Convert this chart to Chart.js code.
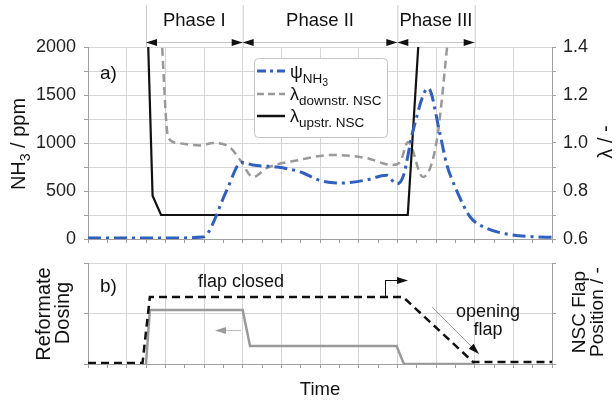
<!DOCTYPE html>
<html>
<head>
  <title>NSC phases</title>
  <script src="https://cdn.jsdelivr.net/npm/chart.js"></script>
  <style>
    body { margin: 0; background: #fff; }
    #wrap { position: relative; width: 616px; height: 400px; }
    canvas { position: absolute; left: 0; top: 0; }
  </style>
</head>
<body>
  <div id="wrap">
    <canvas id="topChart" width="616" height="400"></canvas>
    <canvas id="bottomChart" width="616" height="400"></canvas>
  </div>

  <script>
    // time is in grid divisions (12 of them, axis has no numbers)
    const psiTime = [0, 1, 2, 2.97, 3.1, 3.59, 3.97, 4.27, 4.89, 5.48, 6.0, 6.52, 7.2, 7.72, 7.98, 8.15, 8.41, 8.8, 9.1, 9.27, 9.53, 9.88, 10.31, 10.83, 11.5, 12];
    const psiNH3  = [10, 10, 10, 20, 60, 510, 800, 770, 750, 700, 610, 583, 615, 665, 573, 650, 1135, 1570, 1100, 788, 510, 232, 111, 52, 24, 17];

    const lamDownTime = [1.9, 2.07, 2.3, 2.9, 3.24, 3.68, 3.93, 4.27, 4.63, 5.48, 6.0, 6.34, 7.2, 7.88, 8.07, 8.28, 8.66, 9.02, 9.32];
    const lamDown     = [1.45, 1.025, 1.0, 0.99, 1.0, 0.98, 0.93, 0.858, 0.896, 0.93, 0.946, 0.95, 0.937, 0.908, 0.92, 1.004, 0.858, 1.01, 1.45];

    const lamUpTime = [1.54, 1.67, 1.89, 8.27, 8.56];
    const lamUp     = [1.5, 0.78, 0.70, 0.70, 1.45];

    // b) reformate dosing (left) and NSC flap position (right), 0..1
    const dosingTime = [1.5, 1.6, 4.0, 4.19, 7.98, 8.17, 10];
    const dosing     = [0, 0.535, 0.535, 0.178, 0.178, 0, 0];

    const flapTime = [0, 1.41, 1.6, 8.15, 9.96, 12];
    const flapPos  = [0.01, 0.01, 0.663, 0.663, 0.02, 0.02];

    const phaseBounds = [1.5, 4, 8, 10];
    const phaseNames = ['Phase I', 'Phase II', 'Phase III'];

    const FONT = '"Liberation Sans", Arial, Helvetica, sans-serif';
    const GRID = '#d6d6d6';
    const AXIS = '#a0a0a0';
    const BLUE = '#2f5fbf';

    const pts = (xs, ys) => xs.map((x, i) => ({ x: x, y: ys[i] }));

    // draws a run of text pieces [text, size, dy] side by side
    function runText(ctx, parts, x, y, align) {
      let w = 0;
      parts.forEach(p => { ctx.font = p[1] + 'px ' + FONT; w += ctx.measureText(p[0]).width; });
      let cx = align === 'center' ? x - w / 2 : x;
      ctx.textAlign = 'left';
      ctx.textBaseline = 'alphabetic';
      parts.forEach(p => {
        ctx.font = p[1] + 'px ' + FONT;
        ctx.fillText(p[0], cx, y + (p[2] || 0));
        cx += ctx.measureText(p[0]).width;
      });
    }
    function vText(ctx, parts, x, y) {
      ctx.save();
      ctx.translate(x, y);
      ctx.rotate(-Math.PI / 2);
      runText(ctx, parts, 0, 0, 'center');
      ctx.restore();
    }
    function head(ctx, x, y, ang, len, half, color) {
      ctx.save();
      ctx.translate(x, y);
      ctx.rotate(ang);
      ctx.fillStyle = color;
      ctx.beginPath();
      ctx.moveTo(0, 0);
      ctx.lineTo(-len, -half);
      ctx.lineTo(-len, half);
      ctx.closePath();
      ctx.fill();
      ctx.restore();
    }
    function seg(ctx, x1, y1, x2, y2, color, w) {
      ctx.strokeStyle = color;
      ctx.lineWidth = w || 1;
      ctx.setLineDash([]);
      ctx.beginPath();
      ctx.moveTo(x1, y1);
      ctx.lineTo(x2, y2);
      ctx.stroke();
    }

    const topDecor = {
      id: 'topDecor',
      afterDraw(chart) {
        const ctx = chart.ctx;
        const xs = chart.scales.x;
        const area = chart.chartArea;
        ctx.save();
        ctx.fillStyle = '#111';

        // phase brackets
        const px = phaseBounds.map(v => xs.getPixelForValue(v));
        px.forEach(p => seg(ctx, p + 0.5, 5, p + 0.5, area.top, '#c8c8c8', 1));
        seg(ctx, px[0], 42.5, px[px.length - 1], 42.5, '#c8c8c8', 1);
        for (let i = 0; i < phaseNames.length; i++) {
          head(ctx, px[i], 42.5, Math.PI, 11, 3.5, '#111');
          head(ctx, px[i + 1], 42.5, 0, 11, 3.5, '#111');
          ctx.fillStyle = '#111';
          runText(ctx, [[phaseNames[i], 18.5]], (px[i] + px[i + 1]) / 2, 26, 'center');
        }

        ctx.fillStyle = '#111';
        runText(ctx, [['a)', 19]], 100, 79, 'left');

        // legend
        ctx.fillStyle = '#fff';
        ctx.strokeStyle = '#c4c4c4';
        ctx.lineWidth = 1;
        ctx.beginPath();
        ctx.roundRect(254.5, 58.5, 133, 79, 4);
        ctx.fill();
        ctx.stroke();
        const rows = [
          { y: 71, color: BLUE, dash: [9, 4, 3, 4], w: 3, parts: [['\u03c8', 18, 7], ['NH', 13.5, 12], ['3', 10.5, 15]] },
          { y: 94, color: '#999', dash: [7, 4], w: 2.5, parts: [['\u03bb', 18, 6], ['downstr. NSC', 13.5, 11]] },
          { y: 116, color: '#111', dash: [], w: 2.5, parts: [['\u03bb', 18, 6], ['upstr. NSC', 13.5, 11]] }
        ];
        rows.forEach(r => {
          ctx.strokeStyle = r.color;
          ctx.lineWidth = r.w;
          ctx.setLineDash(r.dash);
          ctx.beginPath();
          ctx.moveTo(257, r.y);
          ctx.lineTo(285, r.y);
          ctx.stroke();
          ctx.setLineDash([]);
          ctx.fillStyle = '#111';
          let x = 290;
          ctx.textAlign = 'left';
          r.parts.forEach(p => {
            ctx.font = p[1] + 'px ' + FONT;
            ctx.fillText(p[0], x, r.y + p[2]);
            x += ctx.measureText(p[0]).width;
          });
        });

        // axis titles
        ctx.fillStyle = '#111';
        vText(ctx, [['NH', 20], ['3', 14, 5], [' / ppm', 20]], 25, 144);
        vText(ctx, [['\u03bb / -', 20]], 612, 142);
        ctx.restore();
      }
    };

    const bottomDecor = {
      id: 'bottomDecor',
      afterDraw(chart) {
        const ctx = chart.ctx;
        const area = chart.chartArea;
        ctx.save();
        ctx.fillStyle = '#111';
        runText(ctx, [['b)', 19]], 100, 292, 'left');
        runText(ctx, [['flap closed', 18]], 241, 287, 'center');
        runText(ctx, [['opening', 18]], 488, 317, 'center');
        runText(ctx, [['flap', 18]], 488, 335, 'center');

        // grey arrow -> left axis
        seg(ctx, 241, 330.5, 224, 330.5, '#c0c0c0', 1);
        head(ctx, 215, 330.5, Math.PI, 11, 3.5, '#9a9a9a');
        // black arrow -> right axis
        seg(ctx, 385.5, 296, 385.5, 280.5, '#111', 1);
        seg(ctx, 385, 280.5, 398, 280.5, '#111', 1);
        head(ctx, 408, 280.5, 0, 11, 3.5, '#111');
        // opening flap arrow
        const a = Math.atan2(354 - 307, 479 - 432);
        seg(ctx, 432, 307, 472, 347, '#9a9a9a', 1);
        head(ctx, 479, 354, a, 11, 3.5, '#111');

        // axis titles
        vText(ctx, [['Reformate', 20]], 50, 314);
        vText(ctx, [['Dosing', 20]], 69, 313);
        vText(ctx, [['NSC Flap', 19]], 585, 312);
        vText(ctx, [['Position / -', 19]], 603, 312);
        runText(ctx, [['Time', 18.5]], (area.left + area.right) / 2, 395, 'center');
        ctx.restore();
      }
    };

    const xAxis = {
      type: 'linear',
      min: 0,
      max: 12,
      ticks: { display: false, stepSize: 0.5 },
      grid: {
        color: c => Number.isInteger(c.tick.value) ? GRID : 'rgba(0,0,0,0)',
        tickColor: AXIS,
        tickLength: 4
      },
      border: { color: AXIS },
      afterFit: s => { s.height = 4; }
    };

    const tickFont = { family: FONT, size: 18 };

    new Chart(document.getElementById('topChart'), {
      type: 'line',
      data: {
        datasets: [
          {
            data: pts(psiTime, psiNH3), yAxisID: 'y', borderColor: BLUE, borderWidth: 3,
            borderDash: [13, 5, 3, 5], pointRadius: 0, cubicInterpolationMode: 'monotone'
          },
          {
            data: pts(lamUpTime, lamUp), yAxisID: 'yR', borderColor: '#111', borderWidth: 2.2,
            pointRadius: 0
          },
          {
            data: pts(lamDownTime, lamDown), yAxisID: 'yR', borderColor: '#999', borderWidth: 2.5,
            borderDash: [8, 5], pointRadius: 0, cubicInterpolationMode: 'monotone'
          }
        ]
      },
      options: {
        responsive: false,
        animation: false,
        events: [],
        layout: { padding: { top: 47, bottom: 157, left: 0, right: 0 } },
        plugins: { legend: { display: false }, tooltip: { enabled: false } },
        scales: {
          x: xAxis,
          y: {
            position: 'left', min: 0, max: 2000,
            ticks: {
              stepSize: 250, autoSkip: false, padding: 8, color: '#222', font: tickFont,
              callback: v => v % 500 === 0 ? v : ''
            },
            grid: { color: GRID, tickColor: AXIS, tickLength: 4 },
            border: { color: AXIS },
            afterFit: s => { s.width = 88; }
          },
          yR: {
            position: 'right', min: 0.6, max: 1.4,
            ticks: {
              stepSize: 0.1, autoSkip: false, padding: 7, color: '#222', font: tickFont,
              callback: v => Math.round(v * 10) % 2 === 0 ? v.toFixed(1) : ''
            },
            grid: { drawOnChartArea: false, tickColor: AXIS, tickLength: 4 },
            border: { color: AXIS },
            afterFit: s => { s.width = 64; }
          }
        }
      },
      plugins: [topDecor]
    });

    new Chart(document.getElementById('bottomChart'), {
      type: 'line',
      data: {
        datasets: [
          {
            data: pts(flapTime, flapPos), yAxisID: 'yR', borderColor: '#111', borderWidth: 2.5,
            borderDash: [8, 5], pointRadius: 0
          },
          {
            data: pts(dosingTime, dosing), yAxisID: 'y', borderColor: '#9a9a9a', borderWidth: 2.5,
            pointRadius: 0
          }
        ]
      },
      options: {
        responsive: false,
        animation: false,
        events: [],
        layout: { padding: { top: 263, bottom: 32, left: 0, right: 0 } },
        plugins: { legend: { display: false }, tooltip: { enabled: false } },
        scales: {
          x: xAxis,
          y: {
            position: 'left', min: 0, max: 1,
            ticks: { display: false, stepSize: 0.5 },
            grid: { color: GRID, tickColor: AXIS, tickLength: 4 },
            border: { color: AXIS },
            afterFit: s => { s.width = 88; }
          },
          yR: {
            position: 'right', min: 0, max: 1,
            ticks: { display: false, stepSize: 0.5 },
            grid: { drawOnChartArea: false, tickColor: AXIS, tickLength: 4 },
            border: { color: AXIS },
            afterFit: s => { s.width = 64; }
          }
        }
      },
      plugins: [bottomDecor]
    });
  </script>
</body>
</html>
